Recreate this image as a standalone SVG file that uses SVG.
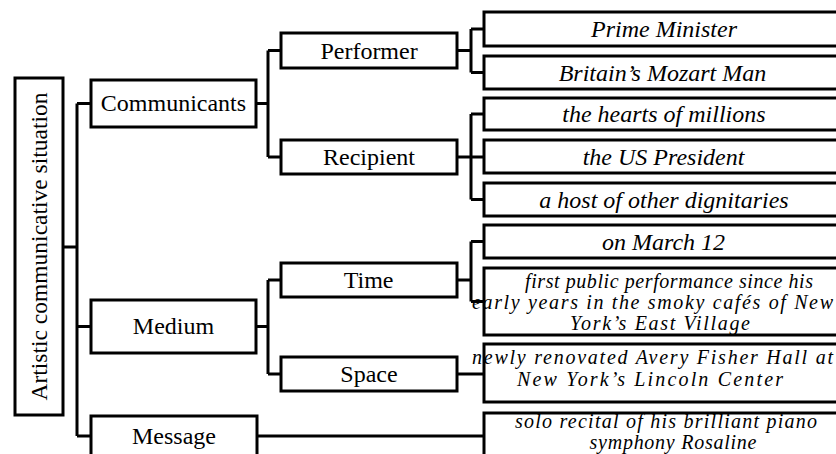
<svg xmlns="http://www.w3.org/2000/svg" width="836" height="454" viewBox="0 0 836 454">
<defs>
<rect id="bg" x="0" y="0" width="836" height="454" fill="#fff"/>
</defs>
<use href="#bg"/>
<g id="connectors" fill="none" stroke="#000" stroke-width="3">
<path d="M63,247H77M77,103.5V436M77,103.5H91M77,326.5H91M77,436H91"/>
<path d="M256,103.5H268M268,50.5V157M268,50.5H281M268,157H281"/>
<path d="M256,326.5H268M268,280V374M268,280H281M268,374H281"/>
<path d="M457,50.5H471M471,29V72.5M471,29H484M471,72.5H484"/>
<path d="M457,157H471M471,114V199.5M471,114H484M471,157H484M471,199.5H484"/>
<path d="M457,280H471M471,241.5V301.5M471,241.5H484M471,301.5H484"/>
<path d="M457,374H484"/>
<path d="M256,436H484"/>
</g>
<g id="root"><rect x="15" y="78" width="48" height="337" fill="#fff" stroke="#000" stroke-width="3"/><text transform="translate(47,246.5) rotate(-90)" x="-154" y="0" font-size="23.5" font-family="Liberation Serif">Artistic communicative situation</text></g>
<g id="communicants"><rect x="91" y="80" width="165" height="47" fill="#fff" stroke="#000" stroke-width="3"/><text x="100.8" y="111" font-size="24" font-family="Liberation Serif">Communicants</text></g>
<g id="medium"><rect x="91" y="300" width="165" height="53" fill="#fff" stroke="#000" stroke-width="3"/><text x="132.8" y="334" font-size="24" font-family="Liberation Serif">Medium</text></g>
<g id="message"><rect x="91" y="416" width="166" height="46" fill="#fff" stroke="#000" stroke-width="3"/><text x="132" y="444" font-size="24" font-family="Liberation Serif">Message</text></g>
<g id="performer"><rect x="281" y="33" width="176" height="35" fill="#fff" stroke="#000" stroke-width="3"/><text x="320.4" y="58.5" font-size="24" font-family="Liberation Serif">Performer</text></g>
<g id="recipient"><rect x="281" y="140" width="176" height="34" fill="#fff" stroke="#000" stroke-width="3"/><text x="323" y="165" font-size="24" font-family="Liberation Serif">Recipient</text></g>
<g id="time"><rect x="281" y="263" width="176" height="34" fill="#fff" stroke="#000" stroke-width="3"/><text x="343.7" y="288" font-size="24" font-family="Liberation Serif">Time</text></g>
<g id="space"><rect x="281" y="357" width="176" height="34" fill="#fff" stroke="#000" stroke-width="3"/><text x="340.3" y="382" font-size="24" font-family="Liberation Serif">Space</text></g>
<g id="leaf-pm"><rect x="484" y="12" width="360" height="34" fill="#fff" stroke="#000" stroke-width="3"/><text x="591" y="36.5" font-size="24" font-family="Liberation Serif" font-style="italic">Prime Minister</text></g>
<g id="leaf-bmm"><rect x="484" y="56" width="360" height="33" fill="#fff" stroke="#000" stroke-width="3"/><text x="558.7" y="80.5" font-size="24" font-family="Liberation Serif" font-style="italic">Britain’s Mozart Man</text></g>
<g id="leaf-hearts"><rect x="484" y="98" width="360" height="32" fill="#fff" stroke="#000" stroke-width="3"/><text x="562.3" y="121.5" font-size="24" font-family="Liberation Serif" font-style="italic">the hearts of millions</text></g>
<g id="leaf-usp"><rect x="484" y="140" width="360" height="33" fill="#fff" stroke="#000" stroke-width="3"/><text x="582.7" y="164.5" font-size="24" font-family="Liberation Serif" font-style="italic">the US President</text></g>
<g id="leaf-host"><rect x="484" y="183" width="360" height="33" fill="#fff" stroke="#000" stroke-width="3"/><text x="539.3" y="207.5" font-size="24" font-family="Liberation Serif" font-style="italic">a host of other dignitaries</text></g>
<g id="leaf-march"><rect x="484" y="225" width="360" height="33" fill="#fff" stroke="#000" stroke-width="3"/><text x="602" y="249.5" font-size="24" font-family="Liberation Serif" font-style="italic">on March 12</text></g>
<g id="leaf-first"><rect x="484" y="268" width="360" height="67" fill="#fff" stroke="#000" stroke-width="3"/><text x="525" y="288" font-size="20" font-family="Liberation Serif" font-style="italic" textLength="288" lengthAdjust="spacing">first public performance since his</text><text x="472" y="309" font-size="20" font-family="Liberation Serif" font-style="italic" textLength="361" lengthAdjust="spacing">early years in the smoky cafés of New</text><text x="570" y="330" font-size="20" font-family="Liberation Serif" font-style="italic" textLength="180" lengthAdjust="spacing">York’s East Village</text></g>
<g id="leaf-newly"><rect x="484" y="344" width="360" height="58" fill="#fff" stroke="#000" stroke-width="3"/><text x="472" y="364" font-size="20" font-family="Liberation Serif" font-style="italic" textLength="361" lengthAdjust="spacing">newly renovated Avery Fisher Hall at</text><text x="517" y="386" font-size="20" font-family="Liberation Serif" font-style="italic" textLength="266" lengthAdjust="spacing">New York’s Lincoln Center</text></g>
<g id="leaf-solo"><rect x="484" y="413" width="360" height="50" fill="#fff" stroke="#000" stroke-width="3"/><text x="515" y="428" font-size="20" font-family="Liberation Serif" font-style="italic" textLength="302" lengthAdjust="spacing">solo recital of his brilliant piano</text><text x="589.5" y="449" font-size="20" font-family="Liberation Serif" font-style="italic" textLength="167" lengthAdjust="spacing">symphony Rosaline</text></g>
</svg>
